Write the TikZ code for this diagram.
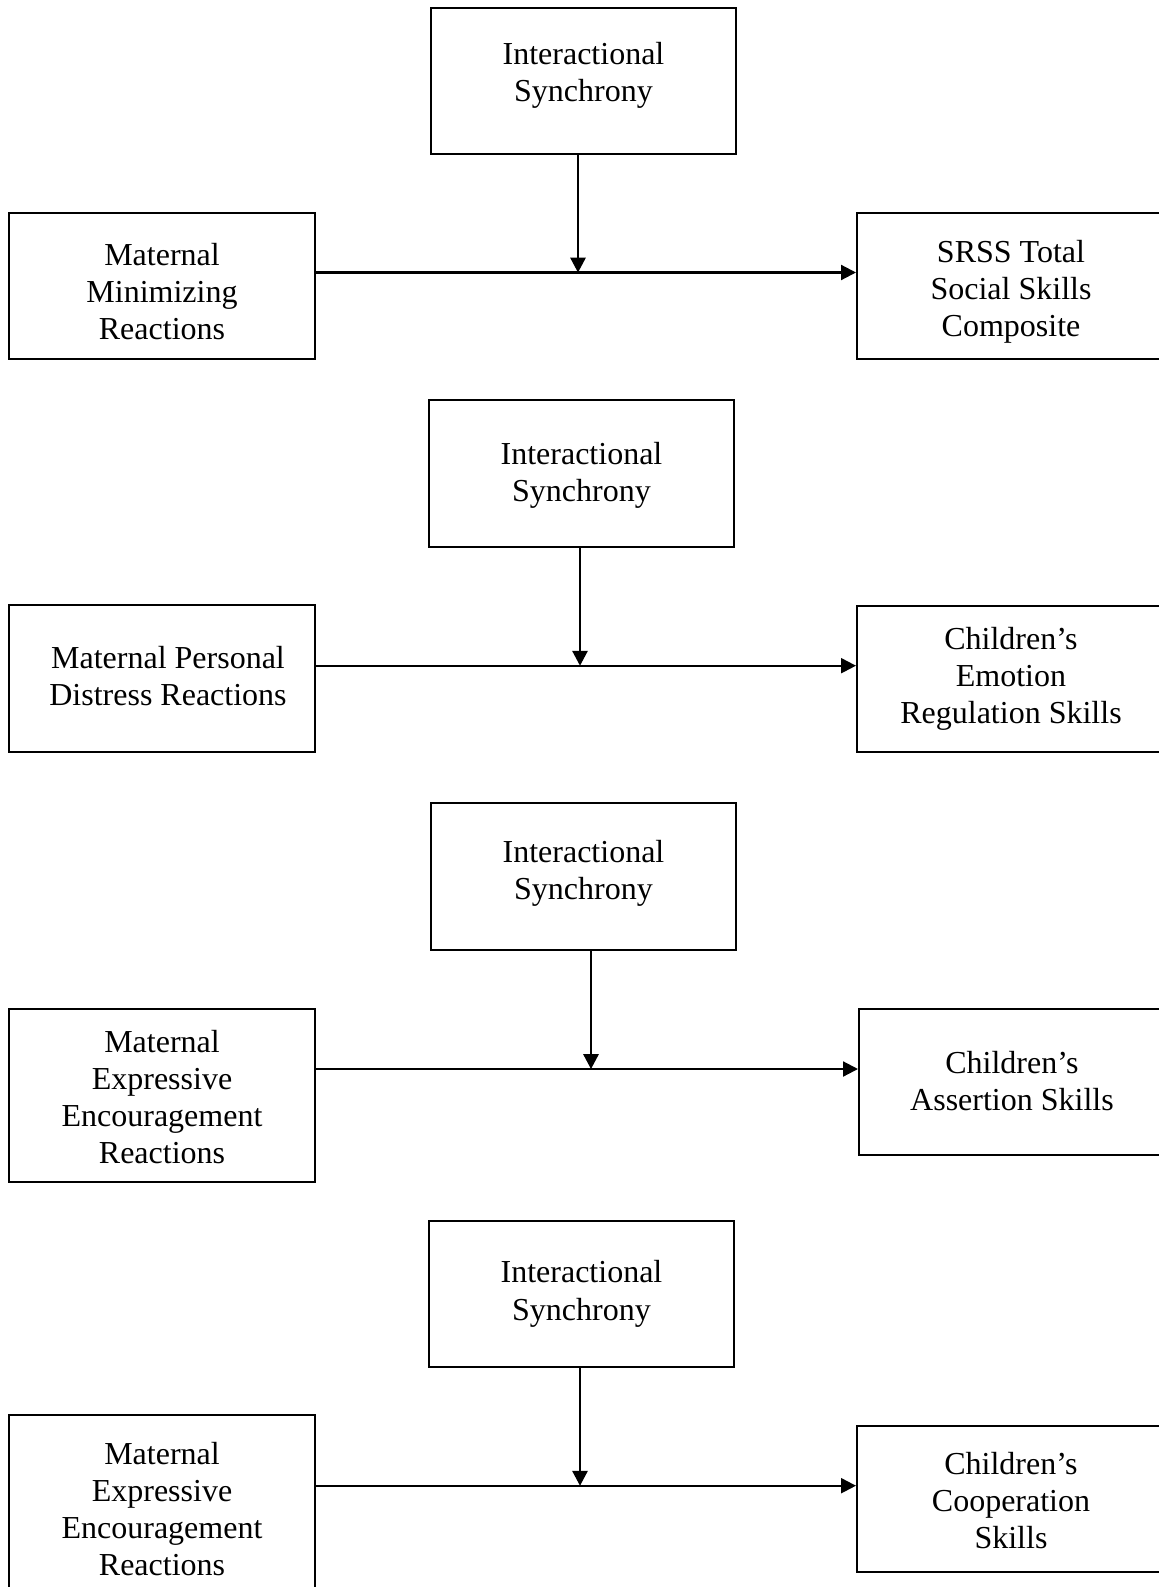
\documentclass[tikz,border=0pt]{standalone}
\usepackage{fontspec}
\setmainfont{Liberation Serif}
\usetikzlibrary{arrows.meta}
\tikzset{
  box/.style={draw, line width=0.75pt, rectangle, inner sep=0pt},
  txt/.style={inner sep=0pt, align=center, font=\fontsize{12pt}{13.9pt}\selectfont},
  hline/.style={line width=0.8pt, -{Triangle[length=5.6pt,width=5.6pt]}},
  vline/.style={line width=0.6pt, -{Triangle[length=5.6pt,width=5.8pt]}},
}
% name, x1, y1, x2, y2, text, text shift (px, down)
\newcommand\mybox[7]{%
  \node[box, minimum width={(#4-#2)*0.375pt}, minimum height={(#5-#3)*0.375pt}] (#1) at ({(#2+#4)/2},{(#3+#5)/2}) {};
  \node[txt] (#1text) at ({(#2+#4)/2},{(#3+#5)/2+#7}) {#6};}
\begin{document}
\begin{tikzpicture}[x=0.375pt,y=-0.375pt]
\fill[white] (0,0) rectangle (1159,1587);
\path[use as bounding box, clip] (0,0) rectangle (1159,1587);
% Panel 1
\mybox{t1}{431}{8}{736}{154}{Interactional\\Synchrony}{-5.6}
\mybox{l1}{9}{212.7}{315}{359.3}{Maternal\\Minimizing\\Reactions}{5.5}
\mybox{r1}{857}{213}{1165}{359}{SRSS Total\\Social Skills\\Composite}{6}
\coordinate (m1) at (578,272.5);
\draw[hline] (l1.east |- m1) -- (r1.west |- m1);
\draw[vline] (t1.south -| m1) -- (m1);
% Panel 2
\mybox{t2}{429}{400}{734}{546.7}{Interactional\\Synchrony}{2}
\mybox{l2}{9}{605}{315}{751.7}{\hspace*{4.5pt}Maternal Personal\\\hspace*{4.5pt}Distress Reactions}{-2.5}
\mybox{r2}{857}{605.7}{1165}{751.7}{Children’s\\Emotion\\Regulation Skills}{0}
\coordinate (m2) at (580,665.7);
\draw[hline] (l2.east |- m2) -- (r2.west |- m2);
\draw[vline] (t2.south -| m2) -- (m2);
% Panel 3
\mybox{t3}{431}{803}{736}{950}{Interactional\\Synchrony}{-3}
\mybox{l3}{9}{1009}{315}{1181.7}{Maternal\\Expressive\\Encouragement\\Reactions}{1.5}
\mybox{r3}{859}{1009}{1165}{1155}{Children’s\\Assertion Skills}{-1}
\coordinate (m3) at (591,1069);
\draw[hline] (l3.east |- m3) -- (r3.west |- m3);
\draw[vline] (t3.south -| m3) -- (m3);
% Panel 4
\mybox{t4}{429}{1221}{734}{1366.7}{Interactional\\Synchrony}{0}
\mybox{l4}{9}{1415}{315}{1590}{Maternal\\Expressive\\Encouragement\\Reactions}{6.5}
\mybox{r4}{857}{1425.7}{1165}{1571.7}{Children’s\\Cooperation\\Skills}{2}
\coordinate (m4) at (580,1485.7);
\draw[hline] (l4.east |- m4) -- (r4.west |- m4);
\draw[vline] (t4.south -| m4) -- (m4);
\end{tikzpicture}
\end{document}
